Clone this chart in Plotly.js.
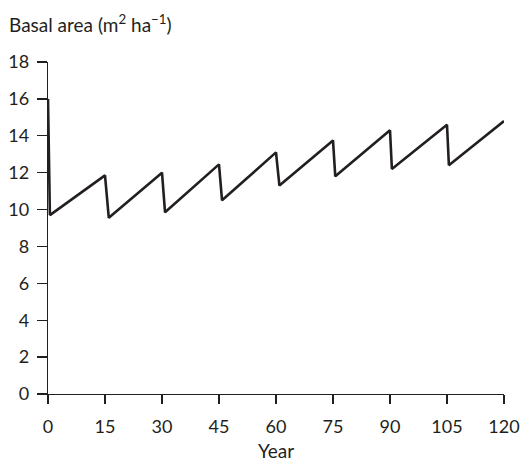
<!DOCTYPE html>
<html>
<head>
<meta charset="utf-8">
<script src="https://cdn.plot.ly/plotly-3.0.1.min.js"></script>
<style>html,body{margin:0;padding:0;background:#fff;}#chart{width:521px;height:467px;}</style>
</head>
<body>
<div id="chart"></div>
<script>
const years = [0, 0.5, 15, 16, 30, 30.8, 45, 45.8, 60, 60.9, 75, 75.6, 90, 90.5, 105, 105.5, 120];
const basalArea = [16, 9.7, 11.85, 9.55, 12.0, 9.85, 12.45, 10.5, 13.1, 11.3, 13.75, 11.8, 14.3, 12.2, 14.6, 12.4, 14.8];
const xTicks = [0, 15, 30, 45, 60, 75, 90, 105, 120];
const yTicks = [0, 2, 4, 6, 8, 10, 12, 14, 16, 18];

const fontFam = 'Lato, "Open Sans", sans-serif';
const ink = '#231f20';
const fs = 19;
const tfs = 18;

const trace = {
  x: years, y: basalArea, type: 'scatter', mode: 'lines',
  line: {color: ink, width: 2.6}, cliponaxis: false, hoverinfo: 'skip'
};

const layout = {
  width: 521, height: 467,
  margin: {l: 48, r: 17, t: 62, b: 73},
  paper_bgcolor: '#fff', plot_bgcolor: '#fff',
  showlegend: false,
  font: {family: fontFam, size: fs, color: ink},
  xaxis: {
    range: [0, 120], tickvals: xTicks, ticktext: xTicks.map(String),
    showgrid: false, zeroline: false, showline: true, linecolor: ink, linewidth: 1.3,
    ticks: 'outside', ticklen: 9, tickwidth: 1.3, tickcolor: ink,
    ticklabeloverflow: 'allow', ticklabelstandoff: 7,
    tickfont: {family: fontFam, size: tfs, color: ink},
    title: {text: 'Year', font: {family: fontFam, size: fs, color: ink}, standoff: 8}
  },
  yaxis: {
    range: [0, 18], tickvals: yTicks, ticktext: yTicks.map(String),
    showgrid: false, zeroline: false, showline: true, linecolor: ink, linewidth: 1.3,
    ticks: 'outside', ticklen: 10, tickwidth: 1.3, tickcolor: ink,
    ticklabelstandoff: 4,
    tickfont: {family: fontFam, size: tfs, color: ink}
  },
  annotations: [{
    text: 'Basal area (m<sup>2</sup> ha<sup>\u22121</sup>)',
    xref: 'paper', yref: 'paper', x: 0, y: 1, xanchor: 'left', yanchor: 'top',
    xshift: -41, yshift: 53, showarrow: false, font: {family: fontFam, size: fs, color: ink}
  }]
};

Plotly.newPlot('chart', [trace], layout, {displayModeBar: false, staticPlot: true});
</script>
</body>
</html>
